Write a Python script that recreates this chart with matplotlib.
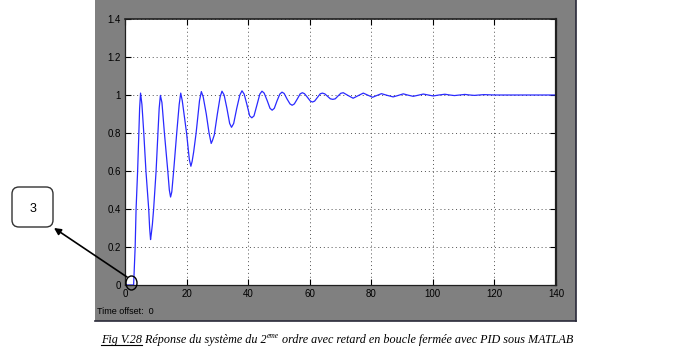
import matplotlib
matplotlib.use("Agg")
import matplotlib.pyplot as plt
from matplotlib.patches import Rectangle, FancyBboxPatch, FancyArrowPatch, Ellipse
from matplotlib.transforms import IdentityTransform
from matplotlib.lines import Line2D

# ---------------- data ----------------
time_s = [0, 2.8, 3.3, 3.6, 4.1, 4.5, 4.75, 5.05, 5.5, 6.1, 6.8, 7.7, 8.0, 8.3,
          8.55, 8.9, 9.3, 10.1, 10.7, 11.1, 11.5, 12.0, 12.8, 13.9, 14.4, 14.8,
          15.2, 15.8, 16.8, 17.6, 18.1, 18.6, 20.0, 20.9, 21.4, 21.8, 22.3, 23.1,
          24.2, 24.8, 25.4, 26.4, 27.3, 28.0, 28.4, 29.0, 30.0, 30.9, 31.5, 32.2,
          33.1, 34.0, 34.6, 35.3, 36.3, 37.3, 38.0, 38.7, 39.6, 40.5, 41.2, 41.9,
          42.9, 43.8, 44.5, 45.2, 46.2, 47.1, 47.8, 48.5, 49.4, 50.3, 51.0, 51.7,
          52.6, 53.6, 54.3, 55.0, 56.0, 56.9, 57.6, 58.3, 59.3, 60.2, 60.9, 61.6,
          62.5, 63.4, 64.1, 64.9, 65.8, 66.7, 67.5, 68.3, 69.2, 70.1, 70.9, 72.5,
          74.1, 75.8, 77.4, 78.9, 80.4, 81.9, 83.3, 85.2, 87.1, 88.8, 90.4, 92.0,
          93.6, 95.3, 96.9, 98.5, 100.1, 102.0, 103.9, 105.5, 107.0, 108.7, 110.4,
          112.0, 113.5, 115.0, 116.6, 120.0, 140.0]
response = [0, 0, 0.20, 0.40, 0.60, 0.80, 0.93, 1.01, 0.95, 0.80, 0.60, 0.40, 0.30, 0.239,
            0.27, 0.32, 0.40, 0.60, 0.80, 0.93, 0.998, 0.96, 0.80, 0.60, 0.50, 0.463,
            0.49, 0.60, 0.80, 0.95, 1.01, 0.97, 0.80, 0.66, 0.625, 0.65, 0.70, 0.80,
            0.97, 1.018, 0.99, 0.90, 0.80, 0.745, 0.76, 0.79, 0.90, 0.99, 1.02, 1.0,
            0.93, 0.85, 0.83, 0.85, 0.93, 1.0, 1.022, 1.005, 0.95, 0.89, 0.88, 0.89,
            0.95, 1.005, 1.02, 1.01, 0.97, 0.93, 0.92, 0.93, 0.97, 1.005, 1.015, 1.008,
            0.98, 0.953, 0.946, 0.953, 0.98, 1.006, 1.012, 1.007, 0.987, 0.968, 0.963, 0.968,
            0.987, 1.006, 1.01, 1.006, 0.993, 0.98, 0.977, 0.98, 0.995, 1.009, 1.012, 0.997,
            0.983, 0.997, 1.010, 0.999, 0.988, 0.998, 1.007, 0.998, 0.990, 0.998, 1.006, 0.999,
            0.993, 0.999, 1.005, 1.0, 0.995, 1.0, 1.004, 1.0, 0.997, 1.0, 1.003,
            1.0, 0.998, 1.0, 1.002, 1.0, 1.0]

x_ticks = [0, 20, 40, 60, 80, 100, 120, 140]
y_ticks = [0, 0.2, 0.4, 0.6, 0.8, 1.0, 1.2, 1.4]
y_tick_labels = ["0", "0.2", "0.4", "0.6", "0.8", "1", "1.2", "1.4"]

caption_parts = ["Fig V.28", " Réponse du système du 2", "eme",
                 " ordre avec retard en boucle fermée avec PID sous MATLAB"]
callout_label = "3"
offset_text = "Time offset:  0"

# ---------------- figure ----------------
W, H = 681, 359
fig = plt.figure(figsize=(W / 100, H / 100), dpi=100)
fig.patch.set_facecolor("white")
px = IdentityTransform()

# gray scope panel
fig.patches.append(Rectangle((95, H - 321), 481, 321, transform=px,
                             facecolor="#808080", edgecolor="none", zorder=-2))
fig.lines.append(Line2D([575.5, 575.5], [H - 321, H], transform=px, color="#2a2a3a", lw=1.2, zorder=-1))
fig.lines.append(Line2D([95, 576], [H - 320.5, H - 320.5], transform=px, color="#2a2a3a", lw=1.2, zorder=-1))

ax = fig.add_axes([125 / W, 1 - 285 / H, (556 - 125) / W, (285 - 19) / H])
ax.plot(time_s, response, color="#2a2aff", lw=0.9)
ax.set_xlim(0, 140)
ax.set_ylim(0, 1.4)
ax.set_xticks(x_ticks)
ax.set_xticklabels([str(v) for v in x_ticks])
ax.set_yticks(y_ticks)
ax.set_yticklabels(y_tick_labels)
ax.grid(True, color="#505050", linestyle=(0, (1, 3)), lw=0.7)
ax.tick_params(direction="in", length=4, width=0.8, top=True, right=True,
               labelsize=7, pad=3, colors="black")
for lab in ax.get_xticklabels() + ax.get_yticklabels():
    lab.set_family(["Liberation Sans", "DejaVu Sans"])
for sp in ax.spines.values():
    sp.set_color("#202020")
    sp.set_linewidth(0.9)
ax.spines["right"].set_linewidth(1.6)
ax.spines["top"].set_linewidth(1.2)

fig.text(97 / W, 1 - 312 / H, offset_text, fontsize=6.5, va="center", ha="left",
         family=["Liberation Sans", "DejaVu Sans"], color="black")

# callout annotation
fig.patches.append(FancyBboxPatch((12, H - 227), 41, 40, transform=px,
                                  boxstyle="round,pad=0,rounding_size=7",
                                  facecolor="white", edgecolor="#333333", lw=1.0, zorder=5))
fig.text(32.5 / W, 1 - 209 / H, callout_label, fontsize=9, ha="center", va="center",
         family=["Liberation Sans", "DejaVu Sans"], zorder=6)
fig.patches.append(FancyArrowPatch((127, H - 277), (54, H - 228), transform=px,
                                   arrowstyle="-|>", mutation_scale=10,
                                   color="black", lw=1.2, zorder=5,
                                   shrinkA=0, shrinkB=0))
fig.patches.append(Ellipse((131.5, H - 283), 11, 14, transform=px,
                           facecolor="none", edgecolor="black", lw=1.0, zorder=6))

# caption, assembled piece by piece
serif = ["Liberation Serif", "DejaVu Serif"]
fs = 10.5
x0, base_y = 101, H - 343
target_w = 476


def place(fs):
    texts = []
    fig.canvas.draw()
    r = fig.canvas.get_renderer()
    x = x0
    for i, part in enumerate(caption_parts):
        size = fs * 0.62 if i == 2 else fs
        y = base_y + (fs * 0.55 if i == 2 else 0)
        t = fig.text(x, y, part, transform=px, fontsize=size, style="italic",
                     family=serif, ha="left", va="baseline", color="black")
        bb = t.get_window_extent(renderer=r)
        texts.append((t, bb))
        x = bb.x1
    return texts, x - x0


texts, width = place(fs)
for t, _ in texts:
    t.remove()
fs = fs * target_w / width
texts, width = place(fs)
fig.canvas.draw()
r = fig.canvas.get_renderer()
bb0 = texts[0][0].get_window_extent(renderer=r)
fig.lines.append(Line2D([bb0.x0, bb0.x1], [base_y - 2, base_y - 2], transform=px,
                        color="black", lw=0.8))

fig.savefig("out.png", dpi=100, facecolor="white")
